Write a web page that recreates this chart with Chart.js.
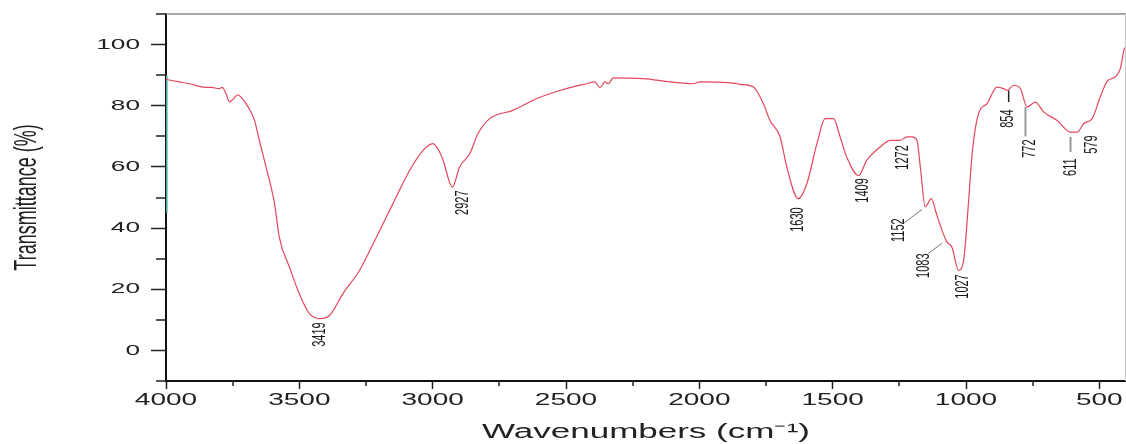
<!DOCTYPE html>
<html>
<head>
<meta charset="utf-8">
<script src="https://cdn.jsdelivr.net/npm/chart.js@4/dist/chart.umd.min.js"></script>
<style>
  html, body { margin: 0; padding: 0; background: #fff; }
</style>
</head>
<body>
<canvas id="ftir" width="1126" height="444"></canvas>
<script>
// FTIR spectrum
const wavenumbers = [
  4000, 3950, 3912, 3863, 3830, 3800, 3789, 3775, 3762, 3745,
  3731, 3715, 3700, 3685, 3668, 3650, 3625, 3593, 3575, 3537,
  3500, 3462, 3424, 3387, 3337, 3274, 3211, 3149, 3086, 3036,
  2999, 2974, 2961, 2926, 2899, 2861, 2830, 2786, 2699, 2611,
  2523, 2423, 2392, 2373, 2354, 2342, 2323, 2210, 2110, 2023,
  1998, 1873, 1847, 1797, 1760, 1735, 1697, 1672, 1629, 1597,
  1559, 1528, 1497, 1472, 1447, 1403, 1372, 1322, 1284, 1247,
  1222, 1203, 1184, 1170, 1153, 1130, 1112, 1090, 1071, 1053,
  1028, 1009, 990, 977, 953, 921, 884, 859, 846, 821,
  796, 771, 740, 709, 658, 608, 583, 558, 527, 496,
  471, 441, 421, 408, 400
];
const transmittance = [
  88.6, 87.8, 87.2, 86.1, 86.0, 85.6, 86.0, 84.0, 81.2, 82.5,
  83.6, 82.5, 80.7, 78.5, 75.2, 68.7, 60, 48, 37, 27.2,
  18.5, 12, 10.4, 11.4, 18.5, 26.2, 37, 48, 58.9, 65.4,
  67.6, 64.9, 62.2, 53.4, 60, 64.3, 70.9, 75.8, 78.5, 82.3,
  85, 87.2, 87.8, 85.9, 87.8, 87.2, 89.1, 88.9, 87.8, 87.2,
  87.8, 87.4, 87.0, 86.1, 80.7, 75.2, 69.8, 60, 49.6, 54.5,
  67.6, 75.8, 75.8, 69.8, 63.2, 57.2, 62.2, 66.5, 68.7, 68.7,
  69.8, 69.8, 68.7, 58.9, 46.9, 49.6, 45, 39.3, 35.4, 33.8,
  26.2, 29.4, 49.1, 64.3, 77.4, 80.7, 86.1, 85.6, 85, 86.7,
  85.6, 79.6, 81.2, 78, 75.2, 71.4, 71.4, 74.2, 75.8, 83,
  88, 89.4, 92.2, 98.1, 99.5
];

const xTickLabels = [4000, 3500, 3000, 2500, 2000, 1500, 1000, 500];
const xMinorTicks = [3750, 3250, 2750, 2250, 1750, 1250, 750];
const yTickLabels = [0, 20, 40, 60, 80, 100];
const yMinorTicks = [-10, 10, 30, 50, 70, 90, 110];

// peak labels: wavenumber where the label sits and the value at its top end
const peakLabels = ['3419', '2927', '1630', '1409', '1272', '1152', '1083', '1027', '854', '772', '611', '579'];
const peakLabelX = [3424, 2888, 1633, 1386, 1239, 1254, 1158, 1014, 843, 760, 606, 530];
const peakLabelTop = [9.2, 52.3, 46.8, 56.3, 67.1, 43.2, 31.7, 24.9, 78.8, 69.0, 62.8, 70.3];

// leader lines from label to band
const leaderX1 = [1235, 1142, 840, 777, 608];
const leaderY1 = [41.5, 31.7, 85.0, 79.6, 69.8];
const leaderX2 = [1165, 1090, 840, 777, 608];
const leaderY2 = [46.1, 35.0, 81.2, 70.0, 64.9];
const leaderColors = ['#777', '#777', '#222', '#999', '#999'];
const leaderWidths = [1, 1, 1.5, 2, 2];

// teal mark on the left axis
const tealSpan = [45, 90];

const SX = 1.75; // the original figure is stretched sideways, text included
const FONT = '"Liberation Sans", Arial, sans-serif';

const nativeFillText = CanvasRenderingContext2D.prototype.fillText;
function wideFillText(text, x, y) {
  const m = this.getTransform();
  this.save();
  this.translate(x, y);
  if (Math.abs(m.b) > 0.5) this.scale(1, SX); else this.scale(SX, 1);
  nativeFillText.call(this, text, 0, 0);
  this.restore();
}

// axis text gets the same sideways stretch
const widenAxisText = {
  id: 'widenAxisText',
  beforeDraw(chart) { chart.ctx.fillText = wideFillText; },
  beforeDatasetsDraw(chart) { delete chart.ctx.fillText; }
};

const extras = {
  id: 'extras',
  afterDatasetsDraw(chart) {
    const ctx = chart.ctx;
    const xs = chart.scales.x, ys = chart.scales.y;
    const area = chart.chartArea;

    ctx.save();
    // frame top and right
    ctx.strokeStyle = '#8c8c8c';
    ctx.lineWidth = 1.5;
    ctx.beginPath();
    ctx.moveTo(area.left, area.top);
    ctx.lineTo(area.right, area.top);
    ctx.stroke();
    ctx.strokeStyle = '#c8c8c8';
    ctx.lineWidth = 1;
    ctx.beginPath();
    ctx.moveTo(area.right - 0.5, area.top);
    ctx.lineTo(area.right - 0.5, area.bottom);
    ctx.stroke();

    // minor ticks
    ctx.strokeStyle = '#222';
    ctx.lineWidth = 1.5;
    ctx.beginPath();
    xMinorTicks.forEach(v => {
      const px = Math.round(xs.getPixelForValue(v));
      ctx.moveTo(px, area.bottom);
      ctx.lineTo(px, area.bottom + 5);
    });
    yMinorTicks.forEach(v => {
      const py = Math.round(ys.getPixelForValue(v));
      ctx.moveTo(area.left, py);
      ctx.lineTo(area.left - 10, py);
    });
    ctx.stroke();

    // leader lines
    leaderX1.forEach((x1, i) => {
      ctx.strokeStyle = leaderColors[i];
      ctx.lineWidth = leaderWidths[i];
      ctx.beginPath();
      ctx.moveTo(xs.getPixelForValue(x1), ys.getPixelForValue(leaderY1[i]));
      ctx.lineTo(xs.getPixelForValue(leaderX2[i]), ys.getPixelForValue(leaderY2[i]));
      ctx.stroke();
    });

    // peak labels, reading bottom to top
    ctx.font = '11px ' + FONT;
    ctx.fillStyle = '#1a1a1a';
    ctx.textAlign = 'right';
    ctx.textBaseline = 'middle';
    peakLabels.forEach((t, i) => {
      ctx.save();
      ctx.translate(xs.getPixelForValue(peakLabelX[i]), ys.getPixelForValue(peakLabelTop[i]));
      ctx.rotate(-Math.PI / 2);
      ctx.scale(1, SX);
      ctx.fillText(t, 0, 0);
      ctx.restore();
    });
    ctx.restore();
  }
};

const ctx = document.getElementById('ftir').getContext('2d');
new Chart(ctx, {
  type: 'line',
  data: {
    datasets: [
      {
        data: wavenumbers.map((x, i) => ({ x: x, y: transmittance[i] })),
        borderColor: '#e4475c',
        borderWidth: 1.2,
        pointRadius: 0,
        cubicInterpolationMode: 'monotone'
      },
      {
        data: tealSpan.map(y => ({ x: 4000, y: y })),
        borderColor: '#3ea896',
        borderWidth: 3,
        pointRadius: 0
      }
    ]
  },
  options: {
    responsive: false,
    animation: false,
    devicePixelRatio: 1,
    layout: { padding: { top: 14, left: 0, right: 0, bottom: 0 } },
    plugins: {
      legend: { display: false },
      tooltip: { enabled: false }
    },
    scales: {
      x: {
        type: 'linear',
        reverse: true,
        min: 400,
        max: 4000,
        afterFit: s => { s.height = 63; s.paddingLeft = 0; s.paddingRight = 0; },
        afterBuildTicks: s => { s.ticks = xTickLabels.map(v => ({ value: v })); },
        grid: { drawOnChartArea: false, tickLength: 8, tickColor: '#222', tickWidth: 1.5 },
        border: { color: '#111', width: 2 },
        ticks: {
          font: { family: FONT, size: 16 },
          color: '#222',
          padding: 2,
          maxRotation: 0,
          autoSkip: false,
          callback: v => String(v)
        },
        title: {
          display: true,
          text: 'Wavenumbers (cm⁻¹)',
          font: { family: FONT, size: 20 },
          color: '#222',
          padding: { top: 0, bottom: 0 }
        }
      },
      y: {
        min: -10,
        max: 110,
        afterFit: s => { s.width = 166; s.paddingTop = 0; s.paddingBottom = 0; },
        afterBuildTicks: s => { s.ticks = yTickLabels.map(v => ({ value: v })); },
        grid: { drawOnChartArea: false, tickLength: 15, tickColor: '#222', tickWidth: 1.5 },
        border: { color: '#111', width: 2 },
        ticks: {
          font: { family: FONT, size: 15 },
          color: '#222',
          padding: 11,
          callback: v => String(v)
        },
        title: {
          display: true,
          text: 'Transmittance (%)',
          font: { family: FONT, size: 18 },
          color: '#222',
          padding: { top: 17, bottom: 0 }
        }
      }
    }
  },
  plugins: [widenAxisText, extras]
});
</script>
</body>
</html>
